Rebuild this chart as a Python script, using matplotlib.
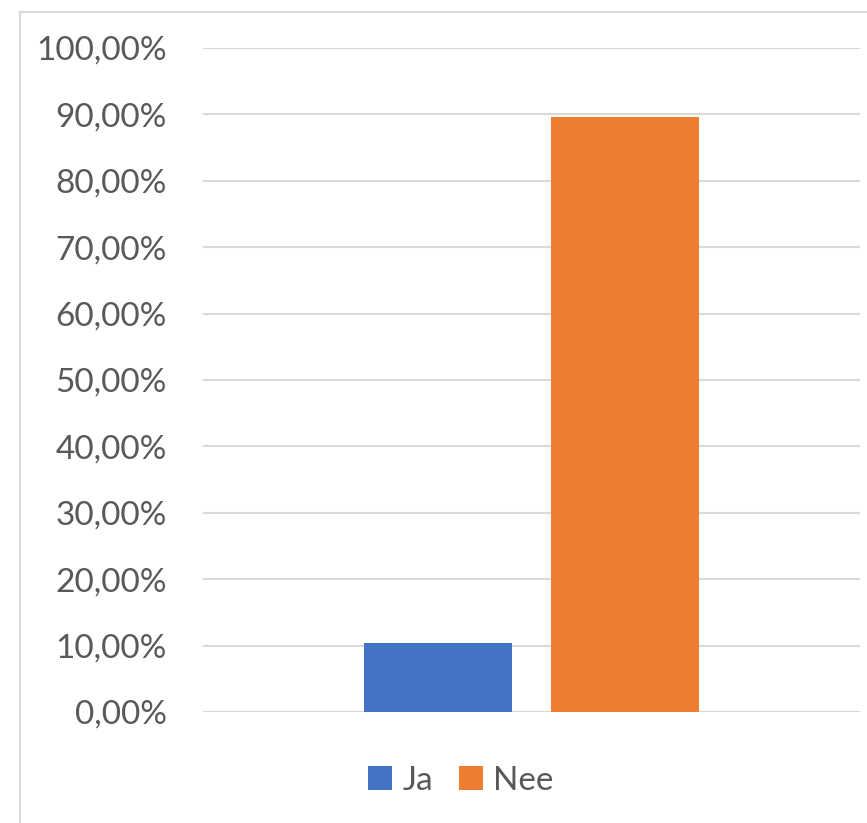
import matplotlib
matplotlib.use("Agg")
import matplotlib.pyplot as plt
from matplotlib.patches import Rectangle
from matplotlib.ticker import FuncFormatter

series_names = ["Ja", "Nee"]
series_values = [0.1034, 0.8966]
series_colors = ["#4472C4", "#ED7D31"]
tick_values = [i / 10 for i in range(11)]

W, H = 867, 823
fig = plt.figure(figsize=(W / 100, H / 100), dpi=100)
plt.rcParams['font.family'] = ['Lato', 'DejaVu Sans']

ax = fig.add_axes([203 / W, 1 - 712 / H, (860 - 203) / W, (712 - 48) / H])

offsets = [-0.1423, 0.1423]
width = 148 / 657
for name, val, col, off in zip(series_names, series_values, series_colors, offsets):
    ax.bar(off, val, width=width, color=col, label=name, zorder=3)

ax.set_xlim(-0.5, 0.5)
ax.set_ylim(0, 1)
ax.set_yticks(tick_values)
ax.yaxis.set_major_formatter(FuncFormatter(lambda v, p: f"{v*100:.2f}%".replace(".", ",")))
ax.set_xticks([])
ax.tick_params(axis='y', length=0, pad=26, labelsize=24, labelcolor="#595959")
ax.grid(axis='y', color="#d9d9d9", linewidth=1.5, zorder=0)
for s in ax.spines.values():
    s.set_visible(False)

# chart border
fig.patches.append(Rectangle((20 / W, -0.1), 1.2, 1 - 12 / H + 0.1, transform=fig.transFigure,
                             fill=False, edgecolor="#d9d9d9", linewidth=1.5))

leg = fig.legend(loc='center', bbox_to_anchor=(461 / W, 1 - 781 / H), ncol=2, frameon=False,
                 fontsize=24, handlelength=0.72, handleheight=0.72, handletextpad=0.3,
                 columnspacing=0.8, labelcolor="#595959")

fig.savefig("out.png", dpi=100)
